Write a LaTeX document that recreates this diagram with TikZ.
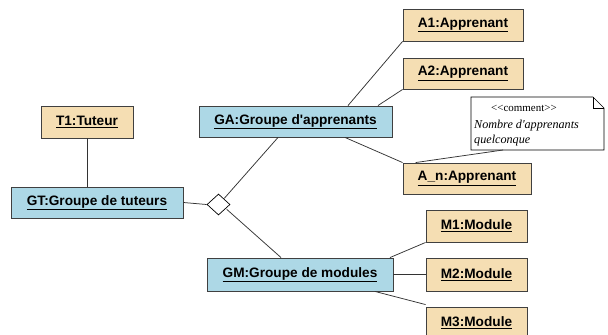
\documentclass[tikz,border=0pt]{standalone}
\usepackage{fontspec}
\setmainfont{Liberation Serif}
\setsansfont{Liberation Sans}
\usetikzlibrary{shapes.geometric,calc}
\definecolor{tan}{HTML}{F5DEB3}
\definecolor{lblue}{HTML}{ADD8E6}
\definecolor{edge}{HTML}{404040}
\tikzset{
  obj/.style={draw=edge, line width=0.9bp, minimum height=32bp, inner sep=0pt,
    font=\sffamily\bfseries\fontsize{13.7}{16}\selectfont},
  inst/.style={obj, fill=tan},
  grp/.style={obj, fill=lblue},
  link/.style={draw=black!80, line width=0.75bp},
}
\newcommand{\ul}[1]{\underline{#1}}
\begin{document}
\begin{tikzpicture}[x=1bp,y=-1bp]
\useasboundingbox (0,0) rectangle (608,334);
% nodes
\node[inst, minimum width=92bp] (T1) at (87,122) {\ul{T1:Tuteur}};
\node[grp, minimum width=172bp, minimum height=31bp] (GT) at (97,202.5) {\ul{GT:Groupe de tuteurs}};
\node[grp, minimum width=193bp, minimum height=31bp] (GA) at (295.5,121.5) {\ul{GA:Groupe d\textquotesingle apprenants}};
\node[inst, minimum width=120bp] (A1) at (463,25) {\ul{A1:Apprenant}};
\node[inst, minimum width=120bp, minimum height=31bp] (A2) at (463,73.5) {\ul{A2:Apprenant}};
\node[inst, minimum width=128bp, minimum height=31bp] (An) at (467,178.5) {\ul{A\_n:Apprenant}};
\node[grp, minimum width=186bp, minimum height=33bp] (GM) at (300,274.5) {\ul{GM:Groupe de modules}};
\node[inst, minimum width=101bp] (M1) at (476.5,226) {\ul{M1:Module}};
\node[inst, minimum width=101bp, minimum height=33bp] (M2) at (476.5,274.5) {\ul{M2:Module}};
\node[inst, minimum width=101bp] (M3) at (476.5,323) {\ul{M3:Module}};
\node[diamond, draw=black, fill=white, line width=0.7bp, minimum width=23bp, minimum height=21bp, inner sep=0pt] (D) at (218.5,204.5) {};
% comment note
\coordinate (n1) at (471,97);
\coordinate (n2) at (593,97);
\coordinate (n3) at (604,108);
\coordinate (n4) at (604,150);
\coordinate (n5) at (471,150);
\draw[black, line width=0.7bp, fill=white] (n1) -- (n2) -- (n3) -- (n4) -- (n5) -- cycle;
\draw[black, line width=0.7bp] (n2) -- (593,108) -- (n3);
\node[anchor=west, inner sep=0pt, font=\fontsize{11}{12}\selectfont] (nc) at (491,108) {<{}<comment>{}>};
\node[anchor=west, inner sep=0pt, font=\itshape\fontsize{12.2}{14}\selectfont] (nt1) at (474,126) {Nombre d\textquotesingle apprenants};
\node[anchor=west, inner sep=0pt, font=\itshape\fontsize{12.2}{14}\selectfont] (nt2) at (474,140.5) {quelconque};
\coordinate (nb) at (503,150);
% connectors
\draw[link] (T1.south) -- (T1.south |- GT.north);
\draw[link] (GT.east) -- (D.west);
\draw[link] ([xshift=-17.5bp]GA.south) -- (224.3,198.3);
\draw[link] (226.7,209.3) -- ([xshift=-19bp]GM.north);
\draw[link] ([xshift=52.5bp]GA.north) -- (A1.south west);
\draw[link] ([xshift=82.5bp]GA.north) -- (A2.south west);
\draw[link] ([xshift=49.5bp]GA.south) -- (An.north west);
\draw[link] (nb) -- ([xshift=13bp]An.north west);
\draw[link] ([xshift=90bp]GM.north) -- (M1.south west);
\draw[link] (GM.east) -- (M2.west);
\draw[link] ([xshift=75bp]GM.south) -- ([yshift=2bp]M3.north west);
\end{tikzpicture}
\end{document}
